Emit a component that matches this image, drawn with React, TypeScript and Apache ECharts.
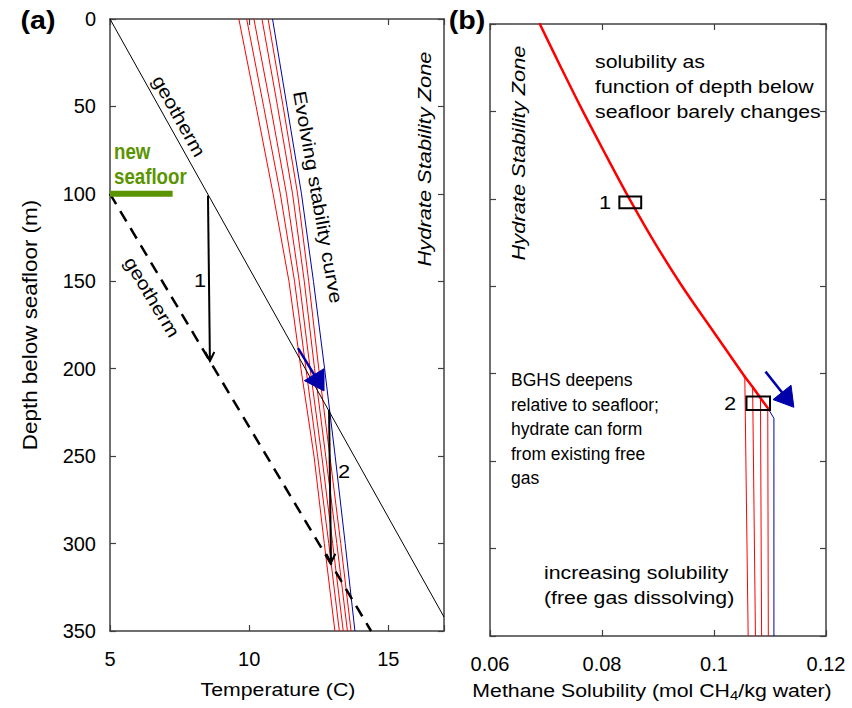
import React, { useEffect, useRef } from "react";
import * as echarts from "echarts";

// ---------- Panel (a): temperature vs depth ----------
const depthTicks = [0, 50, 100, 150, 200, 250, 300, 350];
const tempTicks = [5, 10, 15];
const stabDepths = [0, 50, 100, 150, 200, 250, 300, 350];
const stabRed1 = [9.63, 10.25, 10.86, 11.43, 11.86, 12.33, 12.7, 13.08];
const stabRed2 = [9.91, 10.52, 11.12, 11.63, 12.04, 12.46, 12.86, 13.24];
const stabRed3 = [10.17, 10.77, 11.34, 11.8, 12.19, 12.61, 13.0, 13.38];
const stabRed4 = [10.46, 11.02, 11.56, 11.98, 12.35, 12.75, 13.15, 13.53];
const stabRed5 = [10.68, 11.22, 11.74, 12.14, 12.5, 12.9, 13.29, 13.66];
const stabBlue = [10.84, 11.36, 11.88, 12.31, 12.71, 13.09, 13.45, 13.8];

const geothermT = [5, 17];
const geothermD = [0, 342];
const newGeothermT = [5, 14.38];
const newGeothermD = [100, 350];
const seafloorT = [5, 7.25];
const seafloorD = [100, 100];

// arrows: [x1, y1, x2, y2]
const blackArrows = [
  [8.52, 101, 8.59, 195.6],
  [12.87, 223.6, 12.94, 311],
];
const blueArrowA = [11.755, 188.2, 12.69, 212.7];

// ---------- Panel (b): methane solubility vs depth ----------
const solTicks = [0.06, 0.08, 0.1, 0.12];
const solDepths = [0, 25, 50, 75, 100, 125, 150, 175, 201.7];
const solValues = [0.0689, 0.0727, 0.0766, 0.0807, 0.0849, 0.0894, 0.0943, 0.0997, 0.1055];
const bghsDepths = [201.7, 207.6, 213.9, 219.6, 225.5];
const bghsSol = [0.1055, 0.1069, 0.1083, 0.1096, 0.1107];
const bottomSol = [0.1061, 0.1074, 0.1085, 0.1097, 0.1107];
const boxes = [
  [0.0831, 98.6, 0.087, 105.4],
  [0.1058, 213.1, 0.11, 220.8],
];
const blueArrowB = [0.1092, 198.8, 0.11426, 219.2];

const FONT = "'Liberation Sans', Arial, Helvetica, sans-serif";
const AXC = "#404040";
const RED = "#ff0000";
const BLUE = "#0000aa";
const GREEN = "#5a9400";

function pairs(xs: number[], ys: number[]) {
  return xs.map((x, i) => [x, ys[i]]);
}

function arrowRender(headLen: number, halfW: number, color: string, lw: number, filled: boolean) {
  return (params: any, api: any) => {
    const p1 = api.coord([api.value(0), api.value(1)]);
    const p2 = api.coord([api.value(2), api.value(3)]);
    const dx = p2[0] - p1[0];
    const dy = p2[1] - p1[1];
    const len = Math.sqrt(dx * dx + dy * dy) || 1;
    const ux = dx / len;
    const uy = dy / len;
    const nx = -uy;
    const ny = ux;
    const bx = p2[0] - headLen * ux;
    const by = p2[1] - headLen * uy;
    const left = [bx + halfW * nx, by + halfW * ny];
    const right = [bx - halfW * nx, by - halfW * ny];
    const children: any[] = [];
    if (filled) {
      children.push({
        type: "line",
        shape: { x1: p1[0], y1: p1[1], x2: bx + ux * 2, y2: by + uy * 2 },
        style: { stroke: color, lineWidth: lw },
      });
      children.push({
        type: "polygon",
        shape: { points: [p2, left, right] },
        style: { fill: color, stroke: color, lineWidth: 1 },
      });
    } else {
      children.push({
        type: "line",
        shape: { x1: p1[0], y1: p1[1], x2: p2[0], y2: p2[1] },
        style: { stroke: color, lineWidth: lw },
      });
      children.push({
        type: "polyline",
        shape: { points: [left, p2, right] },
        style: { stroke: color, lineWidth: lw, fill: "none" },
      });
    }
    return { type: "group", children };
  };
}

function boxRender(params: any, api: any) {
  const a = api.coord([api.value(0), api.value(1)]);
  const b = api.coord([api.value(2), api.value(3)]);
  return {
    type: "rect",
    shape: {
      x: Math.min(a[0], b[0]),
      y: Math.min(a[1], b[1]),
      width: Math.abs(b[0] - a[0]),
      height: Math.abs(b[1] - a[1]),
    },
    style: { fill: "none", stroke: "#000", lineWidth: 2 },
  };
}

function buildOption() {
  const tick = { show: true, inside: true, length: 6, lineStyle: { color: AXC, width: 1.2 } };
  const line = { show: true, onZero: false, lineStyle: { color: AXC, width: 1.5 } };
  const label = { color: "#000", fontSize: 20, fontFamily: FONT };

  const mkX = (grid: number, pos: string, min: number, max: number, interval: number, ticks: number[], showLabel: boolean) => ({
    type: "value",
    gridIndex: grid,
    position: pos,
    min,
    max,
    interval,
    axisLine: line,
    axisTick: tick,
    splitLine: { show: false },
    axisLabel: showLabel
      ? {
          ...label,
          margin: 18,
          showMaxLabel: true,
          showMinLabel: true,
          formatter: (v: number) => {
            const m = ticks.find((t) => Math.abs(t - v) < 1e-9);
            return m === undefined ? "" : String(m);
          },
        }
      : { show: false },
  });
  const mkY = (grid: number, pos: string, showLabel: boolean) => ({
    type: "value",
    gridIndex: grid,
    position: pos,
    inverse: true,
    min: 0,
    max: 350,
    interval: 50,
    axisLine: line,
    axisTick: tick,
    splitLine: { show: false },
    axisLabel: showLabel
      ? {
          ...label,
          margin: 14,
          formatter: (v: number) => (depthTicks.includes(v) ? String(v) : ""),
        }
      : { show: false },
  });

  const lineS = (xi: number, yi: number, data: number[][], color: string, width: number, extra: any = {}, smooth: any = false) => ({
    type: "line",
    xAxisIndex: xi,
    yAxisIndex: yi,
    data,
    smooth,
    showSymbol: false,
    symbol: "none",
    silent: true,
    lineStyle: { color, width, ...extra },
    z: 3,
  });

  const series: any[] = [];
  // Panel a
  [stabRed1, stabRed2, stabRed3, stabRed4, stabRed5].forEach((arr) =>
    series.push(lineS(0, 0, pairs(arr, stabDepths), RED, 1))
  );
  series.push(lineS(0, 0, pairs(stabBlue, stabDepths), BLUE, 1));
  series.push(lineS(0, 0, pairs(geothermT, geothermD), "#000", 1));
  series.push(lineS(0, 0, pairs(newGeothermT, newGeothermD), "#000", 2.5, { type: [12, 8] }));
  series.push(lineS(0, 0, pairs(seafloorT, seafloorD), GREEN, 6, { cap: "butt" }));
  series.push({
    type: "custom",
    xAxisIndex: 0,
    yAxisIndex: 0,
    renderItem: arrowRender(9, 4.5, "#000", 2, false),
    data: blackArrows,
    encode: { x: [0, 2], y: [1, 3] },
    clip: false,
    z: 5,
  });
  series.push({
    type: "custom",
    xAxisIndex: 0,
    yAxisIndex: 0,
    renderItem: arrowRender(19, 11.5, BLUE, 2.5, true),
    data: [blueArrowA],
    encode: { x: [0, 2], y: [1, 3] },
    clip: false,
    z: 6,
  });

  // Panel b: each BGHS branch (thin), then the shared solubility curve (thick)
  for (let i = 0; i < bghsDepths.length; i++) {
    const pts: number[][] = [];
    const isBlue = i === bghsDepths.length - 1;
    if (isBlue) pts.push([bghsSol[i - 1], bghsDepths[i - 1]]);
    pts.push([bghsSol[i], bghsDepths[i]]);
    pts.push([bottomSol[i], 350]);
    series.push(lineS(2, 2, pts, isBlue ? BLUE : RED, 1));
  }
  series.push({ ...lineS(2, 2, pairs(solValues, solDepths), RED, 2.5, { cap: "round" }, 0.35), z: 4 });
  series.push({
    ...lineS(2, 2, pairs(bghsSol.slice(0, 4), bghsDepths.slice(0, 4)), RED, 2.5, { cap: "round" }),
    z: 4,
  });
  series.push({
    type: "custom",
    xAxisIndex: 2,
    yAxisIndex: 2,
    renderItem: boxRender,
    data: boxes,
    encode: { x: [0, 2], y: [1, 3] },
    clip: false,
    z: 5,
  });
  series.push({
    type: "custom",
    xAxisIndex: 2,
    yAxisIndex: 2,
    renderItem: arrowRender(19, 11.5, BLUE, 2.5, true),
    data: [blueArrowB],
    encode: { x: [0, 2], y: [1, 3] },
    clip: false,
    z: 6,
  });

  const txt = (text: string, x: number, y: number, opts: any = {}) => ({
    type: "text",
    x,
    y,
    rotation: ((opts.rot || 0) * Math.PI) / 180,
    scaleX: opts.sx || 1,
    silent: true,
    z: 10,
    style: {
      text,
      fill: opts.color || "#000",
      font: `${opts.style || "normal"} ${opts.weight || "normal"} ${opts.size || 21}px ${FONT}`,
      align: opts.align || "center",
      verticalAlign: "middle",
      lineHeight: opts.lh,
    },
  });

  const W = 1.15; // the reference lettering is a little wider than Arial
  const graphic: any[] = [
    txt("(a)", 38, 20, { weight: "bold", size: 26, sx: 1.1 }),
    txt("(b)", 467, 20, { weight: "bold", size: 26, sx: 1.1 }),
    txt("Depth below seafloor (m)", 30, 325, { rot: 90, size: 19.5, sx: W }),
    txt("Temperature (C)", 278, 690, { size: 18.5, sx: W }),
    {
      type: "text",
      x: 652,
      y: 691,
      scaleX: W,
      silent: true,
      style: {
        text: "{a|Methane Solubility (mol CH}{s|4}{a|/kg water)}",
        align: "center",
        verticalAlign: "middle",
        rich: {
          a: { fontSize: 18.5, fontFamily: FONT, fill: "#000" },
          s: { fontSize: 13, fontFamily: FONT, fill: "#000", padding: [9, 0, 0, 0] },
        },
      },
    },
    txt("geotherm", 179, 116, { rot: -60.8, size: 18.5, sx: W }),
    txt("geotherm", 152, 297, { rot: -59.1, size: 18.5, sx: W }),
    txt("Evolving stability curve", 318, 197, { rot: -80, size: 18.5, sx: W }),
    txt("Hydrate Stability Zone", 424, 159, { rot: 90, style: "italic", size: 19, sx: W }),
    txt("new\nseafloor", 114, 164, { align: "left", weight: "bold", size: 22, color: GREEN, lh: 25, sx: 0.85 }),
    txt("1", 200, 280, { size: 19, sx: W }),
    txt("2", 344, 471, { size: 19, sx: W }),
    txt("Hydrate Stability Zone", 518, 153, { rot: 90, style: "italic", size: 19, sx: W }),
    txt("solubility as\nfunction of depth below\nseafloor barely changes", 595, 87, { align: "left", lh: 25, size: 18.5, sx: W }),
    txt("1", 605, 202, { size: 19, sx: W }),
    txt("2", 730, 403, { size: 19, sx: W }),
    txt(
      "BGHS deepens\nrelative to seafloor;\nhydrate can form\nfrom existing free\ngas",
      511,
      429,
      { align: "left", size: 17.5, lh: 24.5 }
    ),
    txt("increasing solubility\n(free gas dissolving)", 544, 585, { align: "left", lh: 25, size: 18.5, sx: W }),
  ];

  return {
    animation: false,
    backgroundColor: "#ffffff",
    grid: [
      { left: 110, top: 19, width: 334, height: 612 },
      { left: 490, top: 24, width: 336, height: 612 },
    ],
    xAxis: [
      mkX(0, "bottom", 5, 17, 5, tempTicks, true),
      mkX(0, "top", 5, 17, 5, tempTicks, false),
      mkX(1, "bottom", 0.06, 0.12, 0.02, solTicks, true),
      mkX(1, "top", 0.06, 0.12, 0.02, solTicks, false),
    ],
    yAxis: [mkY(0, "left", true), mkY(0, "right", false), mkY(1, "left", false), mkY(1, "right", false)],
    series,
    graphic,
  };
}

export default function App() {
  const ref = useRef<HTMLDivElement>(null);
  useEffect(() => {
    document.body.style.margin = "0";
    if (!ref.current) return;
    const chart = echarts.init(ref.current, undefined, { renderer: "svg" });
    chart.setOption(buildOption() as any);
    return () => chart.dispose();
  }, []);
  return <div ref={ref} style={{ width: 852, height: 708 }} />;
}
